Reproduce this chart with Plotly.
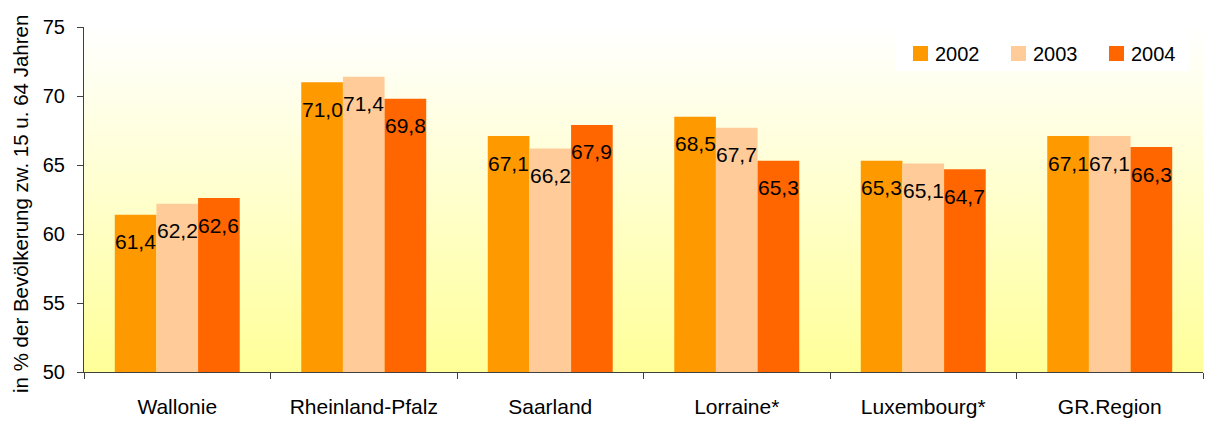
import base64
import plotly.graph_objects as go

categories = ["Wallonie", "Rheinland-Pfalz", "Saarland", "Lorraine*", "Luxembourg*", "GR.Region"]
years = ["2002", "2003", "2004"]
values_2002 = [61.4, 71.0, 67.1, 68.5, 65.3, 67.1]
values_2003 = [62.2, 71.4, 66.2, 67.7, 65.1, 67.1]
values_2004 = [62.6, 69.8, 67.9, 65.3, 64.7, 66.3]
series = [values_2002, values_2003, values_2004]
colors = ["#FF9900", "#FFCC99", "#FF6600"]
y_title = "in % der Bevölkerung zw. 15 u. 64 Jahren"

FONT = "Liberation Sans, Arial, sans-serif"
BARGAP = 0.33
bar_w = (1 - BARGAP) / len(series)
pw, ph = 1119.0, 345.0  # plot area size in px

fig = go.Figure()
for name, vals, col in zip(years, series, colors):
    fig.add_trace(go.Bar(x=categories, y=vals, name=name, marker=dict(color=col, line=dict(width=0)),
                         showlegend=False))

# value labels (German decimal comma), placed near the top inside each bar
annotations = []
for k, vals in enumerate(series):
    for i, v in enumerate(vals):
        annotations.append(dict(
            x=i + (k - (len(series) - 1) / 2) * bar_w, y=v, xref="x", yref="y",
            text=f"{v:.1f}".replace(".", ","), showarrow=False,
            yanchor="middle", xanchor="center", yshift=-27,
            font=dict(family=FONT, size=21, color="#000000")))

# y-axis title as rotated annotation
annotations.append(dict(x=(21 - 84) / pw, y=(372 - 204) / ph, xref="paper", yref="paper",
                        text=y_title, showarrow=False, textangle=-90,
                        xanchor="center", yanchor="middle",
                        font=dict(family=FONT, size=20.5, color="#000000")))

# manual legend
lx0, lx1, ly0, ly1 = 0.7257, 0.9875, 0.8725, 0.9913
shapes = [dict(type="rect", xref="paper", yref="paper", x0=lx0, x1=lx1, y0=ly0, y1=ly1,
               fillcolor="#FFFFFF", line=dict(width=0), layer="above")]
sq_x = [913, 1011, 1109]
for k, (name, col) in enumerate(zip(years, colors)):
    x0 = (sq_x[k] - 84) / pw
    x1 = (sq_x[k] + 15 - 84) / pw
    y0 = (372 - 61) / ph
    y1 = (372 - 46) / ph
    shapes.append(dict(type="rect", xref="paper", yref="paper", x0=x0, x1=x1, y0=y0, y1=y1,
                       fillcolor=col, line=dict(width=0), layer="above"))
    annotations.append(dict(x=(sq_x[k] + 20 - 84) / pw, y=(372 - 54) / ph, xref="paper", yref="paper",
                            text=name, showarrow=False, xanchor="left", yanchor="middle",
                            font=dict(family=FONT, size=20, color="#000000")))

svg = ('<svg xmlns="http://www.w3.org/2000/svg" width="100" height="100" viewBox="0 0 100 100" '
       'preserveAspectRatio="none"><defs><linearGradient id="g" x1="0" y1="0" x2="0" y2="1">'
       '<stop offset="0" stop-color="#FFFFFF"/><stop offset="1" stop-color="#FFFF99"/>'
       '</linearGradient></defs><rect width="100" height="100" fill="url(#g)"/></svg>')
src = "data:image/svg+xml;base64," + base64.b64encode(svg.encode()).decode()

fig.update_layout(
    width=1207, height=421,
    margin=dict(l=84, r=4, t=27, b=49, autoexpand=False),
    paper_bgcolor="#FFFFFF", plot_bgcolor="rgba(0,0,0,0)",
    barmode="group", bargap=BARGAP, bargroupgap=0,
    font=dict(family=FONT, color="#000000"),
    annotations=annotations, shapes=shapes,
    images=[dict(source=src, xref="paper", yref="paper", x=0, y=1, sizex=1, sizey=1,
                 xanchor="left", yanchor="top", sizing="stretch", layer="below")],
    showlegend=False,
)
fig.update_xaxes(type="category", tickson="boundaries", ticks="outside", ticklen=6,
                 tickcolor="#404040", showline=True, linecolor="#404040", linewidth=1,
                 showgrid=False, tickfont=dict(family=FONT, size=21), ticklabelstandoff=16,
                 automargin=False)
fig.update_yaxes(range=[50, 75], dtick=5, tick0=50, ticks="outside", ticklen=6,
                 tickcolor="#404040", showline=True, linecolor="#404040", linewidth=1,
                 showgrid=False, zeroline=False, tickfont=dict(family=FONT, size=20),
                 ticklabelstandoff=8, automargin=False)

fig.write_html("out.html", config={"displayModeBar": False},
               post_script="document.body.style.margin='0';document.body.style.overflow='hidden';")
